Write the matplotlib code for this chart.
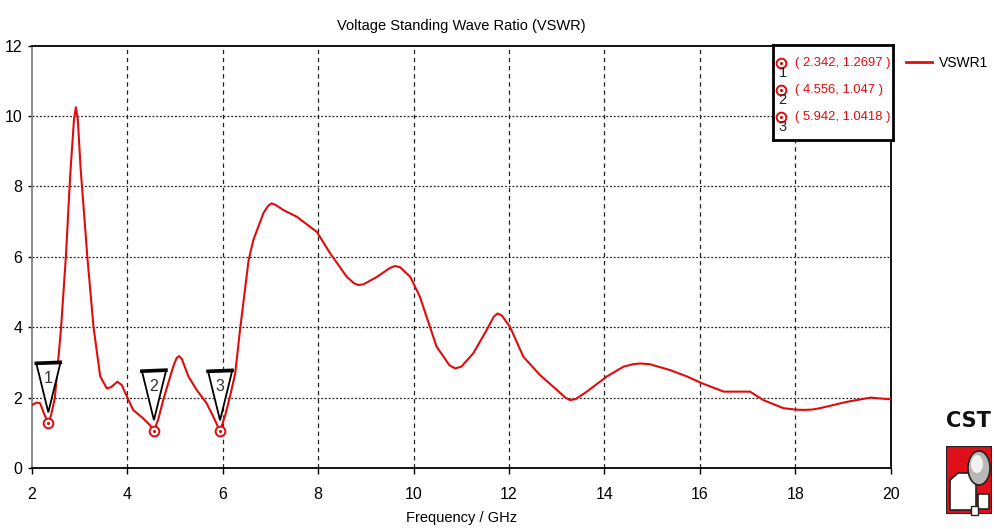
import matplotlib
matplotlib.use("Agg")
import matplotlib.pyplot as plt
import matplotlib.transforms as mtransforms
from matplotlib.patches import Polygon, Rectangle, Ellipse
from matplotlib.lines import Line2D

plt.rcParams['font.family'] = ['Liberation Sans Narrow', 'Liberation Sans', 'DejaVu Sans']

# VSWR sweep, frequency in GHz
freq = [2.0, 2.1, 2.17, 2.25, 2.342, 2.40, 2.48, 2.61, 2.71, 2.80, 2.88, 2.92,
        2.96, 3.02, 3.16, 3.29, 3.43, 3.57, 3.66, 3.79, 3.88, 4.0, 4.12, 4.33,
        4.47, 4.556, 4.65, 4.75, 4.96, 5.03, 5.08, 5.14, 5.28, 5.45, 5.66, 5.80,
        5.942, 6.05, 6.15, 6.26, 6.36, 6.54, 6.64, 6.85, 6.95, 7.02, 7.10, 7.27,
        7.55, 7.97, 8.25, 8.60, 8.75, 8.84, 8.95, 9.23, 9.50, 9.61, 9.72, 9.93,
        10.13, 10.48, 10.75, 10.87, 11.0, 11.25, 11.53, 11.68, 11.76, 11.85, 12.02,
        12.30, 12.65, 13.0, 13.18, 13.28, 13.40, 13.63, 14.05, 14.40, 14.60, 14.75,
        14.95, 15.38, 15.73, 16.04, 16.50, 17.05, 17.33, 17.75, 18.0, 18.17, 18.35,
        18.52, 19.08, 19.58, 20.0]
vswr = [1.79, 1.86, 1.84, 1.55, 1.2697, 1.5, 2.0, 4.0, 6.0, 8.3, 9.9, 10.25,
        9.9, 8.5, 6.0, 4.0, 2.6, 2.26, 2.3, 2.45, 2.36, 2.0, 1.65, 1.41,
        1.22, 1.047, 1.4, 1.93, 2.88, 3.12, 3.18, 3.1, 2.6, 2.22, 1.84, 1.46,
        1.0418, 1.5, 2.03, 2.69, 3.92, 5.9, 6.48, 7.24, 7.45, 7.52, 7.48, 7.33,
        7.14, 6.71, 6.1, 5.43, 5.25, 5.2, 5.22, 5.43, 5.68, 5.74, 5.70, 5.43,
        4.87, 3.45, 2.92, 2.83, 2.88, 3.26, 3.92, 4.30, 4.39, 4.33, 4.01,
        3.16, 2.64, 2.22, 2.0, 1.93, 1.96, 2.17, 2.6, 2.88, 2.95, 2.97,
        2.95, 2.78, 2.6, 2.41, 2.17, 2.17, 1.93, 1.70, 1.66, 1.65, 1.66,
        1.70, 1.88, 2.0, 1.95]

# marker readouts
mark_f = [2.342, 4.556, 5.942]
mark_v = [1.2697, 1.047, 1.0418]

x_ticks = [2, 4, 6, 8, 10, 12, 14, 16, 18, 20]
y_ticks = [0, 2, 4, 6, 8, 10, 12]

red = '#e00c0c'
W, H = 994, 529

fig = plt.figure(figsize=(W / 100, H / 100), dpi=100)
ax = fig.add_axes([32 / W, 1 - 468 / H, 858.7 / W, 422.3 / H])

ax.plot(freq, vswr, color=red, lw=1.5, label='VSWR1', zorder=3)
ax.plot(mark_f, mark_v, 'o', mfc='white', mec=red, ms=7, mew=1.4, zorder=6)
ax.plot(mark_f, mark_v, '.', color=red, ms=2.5, zorder=7)

ax.set_xlim(2, 20)
ax.set_ylim(0, 12)
ax.set_xticks(x_ticks)
ax.set_yticks(y_ticks)
ax.tick_params(axis='x', direction='out', length=4, width=1, pad=10, labelsize=11.5)
ax.tick_params(axis='y', direction='out', length=3, width=1, pad=4, labelsize=11.5)

for gx in x_ticks[1:-1]:
    ax.axvline(gx, color='#222222', lw=0.9, ls=(0, (3.5, 3)), zorder=1)
for gy in y_ticks[1:-1]:
    ax.axhline(gy, color='#222222', lw=0.9, ls=(0, (1.5, 1.5)), zorder=1)

for side in ['top', 'bottom', 'right']:
    ax.spines[side].set_color('black')
    ax.spines[side].set_linewidth(1.3)
ax.spines['left'].set_color('#808080')
ax.spines['left'].set_linewidth(1.3)

ax.set_title('Voltage Standing Wave Ratio (VSWR)', fontsize=10.5, pad=11)
ax.set_xlabel('Frequency / GHz', fontsize=10.5, labelpad=6)

# numbered marker flags above each readout
for n, (f, v) in enumerate(zip(mark_f, mark_v), 1):
    off = mtransforms.ScaledTranslation(f, v, ax.transData)
    tri = Polygon([(-12, 60), (12, 60), (0, 11)], closed=True, fc='white',
                  ec='black', lw=1.3, transform=off, zorder=5, clip_on=False)
    ax.add_artist(tri)
    bar = Line2D([-12, 12], [60, 61], color='black', lw=2.6, transform=off,
                 zorder=5, clip_on=False)
    ax.add_artist(bar)
    ax.text(0, 45, str(n), transform=off, ha='center', va='center',
            fontsize=11.5, color='#333333', zorder=6)

leg = ax.legend(loc='center left', bbox_to_anchor=(906 / W, 1 - 63 / H),
                bbox_transform=fig.transFigure, frameon=False, fontsize=10,
                handlelength=1.9, handletextpad=0.45, borderpad=0, borderaxespad=0)
leg.get_lines()[0].set_linewidth(2)

# marker readout box
lax = fig.add_axes([773 / W, 1 - 140 / H, 120 / W, 95 / H])
lax.set_xlim(0, 120)
lax.set_ylim(95, 0)
lax.set_xticks([])
lax.set_yticks([])
for s in lax.spines.values():
    s.set_linewidth(2)
    s.set_color('black')
for i, (f, v) in enumerate(zip(mark_f, mark_v)):
    ry = 18 + 27 * i
    lax.plot(7.7, ry, 'o', mfc='white', mec=red, ms=7, mew=1.4)
    lax.plot(7.7, ry, '.', color=red, ms=2.5)
    lax.text(9.5, ry + 10, str(i + 1), ha='center', va='center', fontsize=10.5,
             color='#222222')
    lax.text(22, ry, f'( {f}, {v} )', ha='left', va='center', fontsize=9.4,
             color=red)

# CST logo
fig.text(968 / W, 1 - 421 / H, 'CST', ha='center', va='center', fontsize=15,
         fontweight='bold', family='DejaVu Sans', color='#111111')
lg = fig.add_axes([946 / W, 1 - 514 / H, 46 / W, 68 / H])
lg.set_xlim(0, 46)
lg.set_ylim(68, 0)
lg.axis('off')
lg.add_patch(Rectangle((0, 0), 46, 68, fc='#e0101a', ec='#222222', lw=1.5))
lg.add_patch(Polygon([(4, 64), (4, 34), (12, 27), (30, 27), (30, 64)],
                     closed=True, fc='white', ec='#222222', lw=1.2))
lg.add_patch(Ellipse((33, 22), 22, 34, fc='#b8b8b8', ec='#222222', lw=1.2))
lg.add_patch(Ellipse((31, 18), 12, 18, fc='#f2f2f2', ec='none'))
lg.add_patch(Rectangle((32, 48), 11, 15, fc='white', ec='#222222', lw=1.2))
lg.add_patch(Rectangle((25, 60), 7, 9, fc='white', ec='#222222', lw=1.0,
                       clip_on=False))

fig.savefig('out.png', dpi=100)
